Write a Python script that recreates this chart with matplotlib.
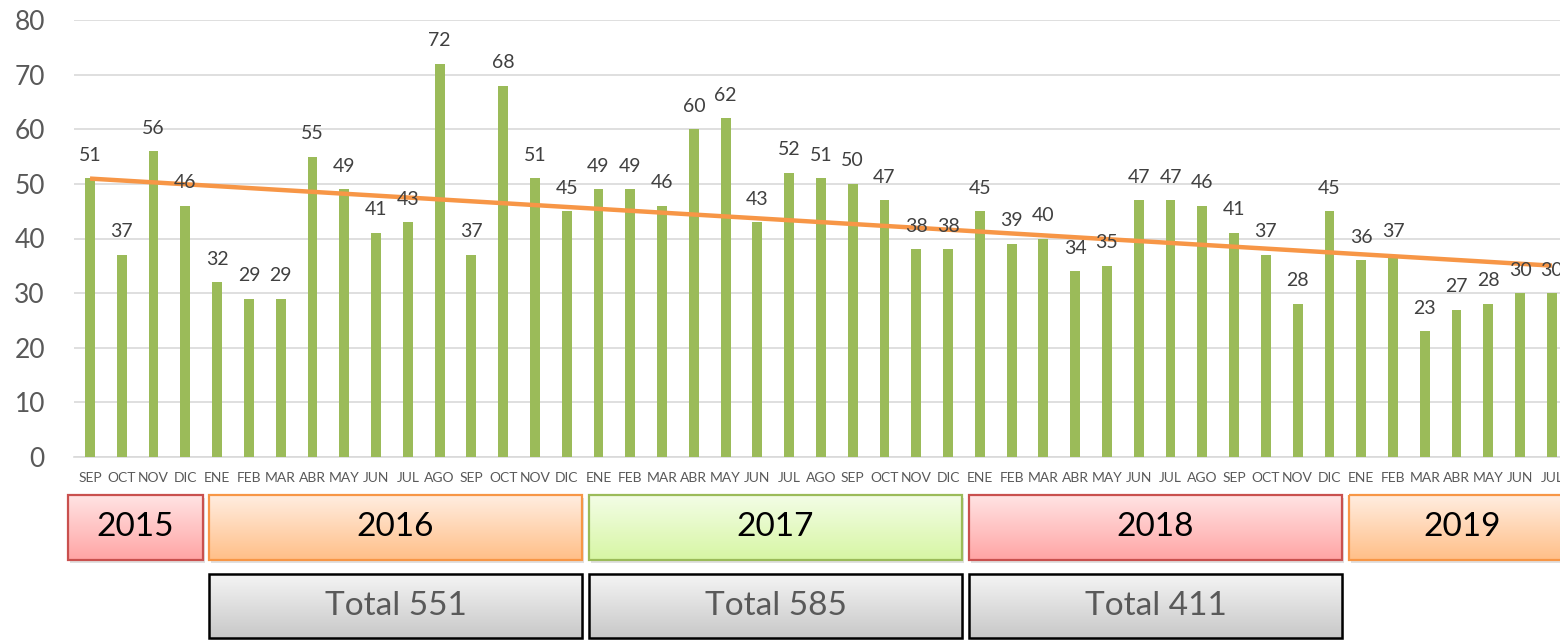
import numpy as np
import matplotlib
matplotlib.use("Agg")
import matplotlib.pyplot as plt
from matplotlib.patches import Rectangle
from matplotlib.colors import to_rgb
import matplotlib.patheffects as pe

plt.rcParams['font.family'] = ['Lato', 'DejaVu Sans']

months = ["SEP", "OCT", "NOV", "DIC",
          "ENE", "FEB", "MAR", "ABR", "MAY", "JUN", "JUL", "AGO", "SEP", "OCT", "NOV", "DIC",
          "ENE", "FEB", "MAR", "ABR", "MAY", "JUN", "JUL", "AGO", "SEP", "OCT", "NOV", "DIC",
          "ENE", "FEB", "MAR", "ABR", "MAY", "JUN", "JUL", "AGO", "SEP", "OCT", "NOV", "DIC",
          "ENE", "FEB", "MAR", "ABR", "MAY", "JUN", "JUL"]
values = [51, 37, 56, 46,
          32, 29, 29, 55, 49, 41, 43, 72, 37, 68, 51, 45,
          49, 49, 46, 60, 62, 43, 52, 51, 50, 47, 38, 38,
          45, 39, 40, 34, 35, 47, 47, 46, 41, 37, 28, 45,
          36, 37, 23, 27, 28, 30, 30]
years = ["2015", "2016", "2017", "2018", "2019"]
totals = ["Total 551", "Total 585", "Total 411"]

W, H = 1560, 640
fig = plt.figure(figsize=(W / 100, H / 100), dpi=100)

# main axes in pixel geometry
left_px, right_px, top_px, bot_px = 74.1, 1567.8, 20, 457
ax = fig.add_axes([left_px / W, 1 - bot_px / H, (right_px - left_px) / W, (bot_px - top_px) / H])
x = np.arange(len(values))
ax.bar(x, values, width=0.31, color="#9BBB59", zorder=3)
ax.set_xlim(-0.5, len(values) - 0.5)
ax.set_ylim(0, 80)
ax.set_yticks(range(0, 81, 10))
ax.yaxis.grid(True, color="#D9D9D9", lw=1.2, zorder=0)
ax.set_axisbelow(True)
for s in ["top", "right", "left"]:
    ax.spines[s].set_visible(False)
ax.spines["bottom"].set_color("#D9D9D9")
ax.spines["bottom"].set_linewidth(1.2)
ax.tick_params(axis="y", length=0, pad=21, labelsize=19, labelcolor="#595959")
ax.set_xticks(x)
ax.set_xticklabels(months)
ax.tick_params(axis="x", length=0, pad=11, labelsize=10, labelcolor="#595959")

for xi, v in zip(x, values):
    ax.annotate(str(v), (xi, v), xytext=(0, 10.5), textcoords="offset points",
                ha="center", va="bottom", fontsize=14, color="#404040", zorder=5)

# linear trend line
coef = np.polyfit(x, values, 1)
trend = np.polyval(coef, x)
ax.plot(x, trend, color="#F79646", lw=3.2, zorder=4, solid_capstyle="butt",
        path_effects=[pe.SimplePatchShadow(offset=(1.5, -1.5), alpha=0.25), pe.Normal()])

# overlay for boxes (pixel coordinates)
ov = fig.add_axes([0, 0, 1, 1], zorder=-1)
ov.set_axis_off()


def grad_box(x0, x1, y0, y1, ctop, cbot, edge, lw, text, tsize, tcolor):
    # shadow
    ov.add_patch(Rectangle((x0 + 2, y0 + 3), x1 - x0, y1 - y0, facecolor="#000000",
                           alpha=0.12, edgecolor="none", zorder=1))
    ct = np.array(to_rgb(ctop))
    cb = np.array(to_rgb(cbot))
    t = np.linspace(0, 1, 64)[:, None]
    img = (ct[None, :] * (1 - t) + cb[None, :] * t)[:, None, :]
    ov.imshow(img, extent=(x0, x1, y1, y0), aspect="auto", zorder=2, interpolation="bilinear")
    ov.add_patch(Rectangle((x0, y0), x1 - x0, y1 - y0, facecolor="none",
                           edgecolor=edge, lw=lw, zorder=3))
    ov.text((x0 + x1) / 2, (y0 + y1) / 2, text, ha="center", va="center",
            fontsize=tsize, color=tcolor, zorder=4)


red = ("#FFE3E3", "#FFA5A5", "#C9504E")
orange = ("#FFEDE0", "#FFBF88", "#F79646")
green = ("#F3FDE6", "#D7F6A4", "#9BBB59")
year_boxes = [(68, 203), (209, 582), (589, 962), (969, 1342), (1349, 1575)]
year_styles = [red, orange, green, red, orange]
for (x0, x1), yr, st in zip(year_boxes, years, year_styles):
    grad_box(x0, x1, 495, 560, st[0], st[1], st[2], 1.6, yr, 24, "black")

total_boxes = [(209, 582), (589, 962), (969, 1342)]
for (x0, x1), tt in zip(total_boxes, totals):
    grad_box(x0, x1, 574, 638, "#F4F4F4", "#C8C8C8", "black", 1.8, tt, 24, "#595959")

ov.set_xlim(0, W)
ov.set_ylim(H, 0)

fig.savefig("out.png", dpi=100)
